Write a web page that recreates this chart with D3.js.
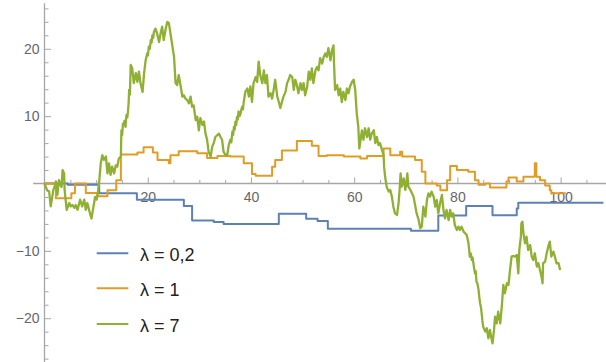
<!DOCTYPE html>
<html>
<head>
<meta charset="utf-8">
<script src="https://cdn.jsdelivr.net/npm/d3@7"></script>
<style>
  html, body { margin: 0; padding: 0; background: #fff; }
  svg { display: block; }
</style>
</head>
<body>
<svg id="chart" width="606" height="362"></svg>
<script>
// ---- data ----
const seriesNames = ["λ = 0,2", "λ = 1", "λ = 7"];
const seriesColors = ["#5E81B5", "#E19C24", "#8FB032"];

// step function, [time, value] (value holds until next time)
const blueSteps = [
  [0, 0], [4.5, -0.2], [10.6, -1.45], [17.9, -2.4], [27.0, -3.35], [28.6, -5.5],
  [32.8, -5.7], [34.7, -6.0], [45.4, -4.5], [50.7, -5.25], [52.9, -5.55],
  [54.9, -6.7], [71.0, -7.0], [76.3, -4.75], [81.7, -3.35], [86.8, -4.7],
  [91.5, -3.7], [91.8, -2.85], [108.3, -2.85]
];

const orangeSteps = [
  [0, 0], [2.2, -2.2], [5.2, -1.45], [5.9, 0], [8.0, -1.4], [10.3, -1.9],
  [12.2, -1.0], [13.9, 0.5], [14.8, 4.3], [18.0, 4.6], [19.2, 5.4], [21.0, 4.6],
  [21.9, 3.5], [24.1, 3.0], [24.4, 4.2], [26.0, 4.8], [29.6, 4.5], [31.5, 3.8],
  [33.5, 4.1], [36.0, 4.0], [38.6, 3.0], [40.2, 1.4], [40.9, 1.15], [44.1, 2.5],
  [44.7, 3.5], [46.0, 4.9], [48.9, 6.3], [51.8, 5.6], [53.1, 4.1], [54.7, 4.2],
  [58.0, 4.0], [61.2, 3.7], [62.5, 4.1], [65.7, 5.2], [67.0, 4.2], [68.9, 4.7],
  [69.3, 4.0], [71.8, 3.5], [73.1, 1.75], [73.8, 0], [76.0, -0.3], [76.7, -1.0],
  [78.0, 0.5], [78.6, 2.6], [79.9, 2.0], [82.1, 1.75], [83.4, 0.5], [84.1, -0.2],
  [85.4, 0.0], [86.3, -0.6], [89.5, 0.3], [89.9, 0.9], [91.5, 0.3], [92.8, 1.0],
  [94.9, 1.1], [95.0, 3.0], [95.3, 1.0], [96.0, 0.5], [97.0, -0.3], [97.9, -1.0],
  [98.2, -1.45], [101.0, -1.45]
];

// dense jump path, [time, value]
const greenPath = [
  [0, 0], [0.5, -1.0], [0.9, -1.2], [1.2, -3.4], [1.5, -2.0], [1.7, -1.0], [2.0, -0.3],
  [2.2, 0.3], [2.5, -1.7], [2.8, 0.5], [3.1, -0.2], [3.3, -0.5], [3.5, 2.0], [3.8, 1.5],
  [3.9, -1.0], [4.3, -3.9], [4.8, -2.9], [5.1, -3.4], [5.4, -3.2], [5.8, -3.6], [6.05, -3.2],
  [6.4, -3.9], [6.9, -2.4], [7.3, -3.4], [7.7, -2.4], [8.0, -3.9], [8.3, -2.9], [8.8, -4.4],
  [9.1, -5.2], [9.5, -3.4], [9.8, -2.0], [10.1, -2.4], [10.4, -1.0], [10.6, 0.3], [10.9, 3.0],
  [11.2, 4.2], [11.5, 3.5], [11.9, 4.0], [12.2, 1.5], [12.5, 3.0], [12.8, 1.3], [13.1, 2.5],
  [13.5, 1.5], [13.8, 2.7], [14.1, 2.5], [14.4, 3.7], [14.8, 4.0], [14.9, 7.9], [15.05, 7.2],
  [15.2, 8.9], [15.3, 8.7], [15.5, 9.3], [15.7, 8.4], [15.8, 9.6], [15.9, 10.2], [16.05, 9.8],
  [16.2, 10.9], [16.3, 12.0], [16.4, 13.9], [16.55, 13.2], [16.7, 17.6], [17.0, 17.1],
  [17.3, 14.9], [17.7, 16.4], [18.0, 15.1], [18.3, 16.6], [18.6, 14.9], [19.0, 13.6],
  [19.3, 16.4], [19.6, 18.3], [19.9, 19.3], [20.05, 19.0], [20.2, 20.3], [20.4, 20.0],
  [20.6, 21.3], [20.75, 20.9], [20.9, 22.0], [21.05, 21.6], [21.2, 22.5],
  [21.5, 23.0], [21.8, 22.3], [22.2, 21.0], [22.5, 22.3], [22.8, 23.3],
  [23.1, 21.3], [23.5, 23.0], [23.8, 24.0], [24.1, 23.8], [24.4, 22.3], [24.7, 20.8],
  [25.1, 18.8], [25.4, 14.9], [25.7, 14.6], [26.0, 16.1], [26.4, 14.4], [26.7, 12.9],
  [27.0, 13.1], [27.3, 12.6], [27.65, 12.4], [28.0, 11.9], [28.3, 12.9], [28.6, 11.4],
  [28.9, 11.6], [29.3, 9.4], [29.6, 9.9], [29.9, 7.9], [30.2, 9.7], [30.6, 8.7], [30.9, 9.2],
  [31.2, 7.4], [31.5, 6.5], [31.8, 4.7], [32.2, 4.0], [32.5, 5.5], [32.8, 6.0], [33.1, 6.9],
  [33.8, 7.4], [34.1, 6.9], [34.4, 6.5], [34.7, 4.7], [35.1, 4.2], [35.4, 4.2], [35.7, 5.7],
  [36.0, 6.5], [36.2, 6.1], [36.4, 7.7], [36.55, 7.2], [36.7, 8.4], [36.85, 8.0], [37.0, 9.2],
  [37.15, 8.7], [37.3, 9.9], [37.45, 9.5], [37.6, 10.7], [37.8, 10.0], [38.0, 10.4],
  [38.15, 11.0], [38.3, 11.4], [38.45, 11.0], [38.6, 12.1], [38.75, 12.8], [38.9, 13.6],
  [39.3, 14.1], [39.6, 12.9], [39.9, 14.4],
  [40.2, 12.1], [40.5, 14.9], [40.9, 15.8], [41.2, 15.1], [41.5, 18.1], [41.8, 16.1],
  [42.2, 14.9], [42.5, 16.8], [42.8, 14.9], [43.1, 16.1], [43.4, 12.9], [43.8, 13.4],
  [44.1, 12.6], [44.4, 13.9], [44.7, 15.4], [45.1, 12.9], [45.4, 12.1], [45.7, 11.2],
  [46.0, 12.1], [46.3, 12.9], [46.7, 13.6], [47.0, 14.9], [47.3, 15.4], [47.6, 16.1],
  [48.0, 15.8], [48.3, 13.9], [48.6, 15.4], [48.9, 14.6], [49.2, 13.4], [49.6, 14.9],
  [49.9, 13.9], [50.2, 14.9], [50.5, 13.1], [50.9, 14.4], [51.2, 16.6], [51.5, 15.4],
  [51.8, 17.1], [52.1, 14.9], [52.5, 16.8], [52.8, 17.3], [53.1, 16.8], [53.4, 18.6],
  [53.8, 17.8], [54.1, 18.8], [54.4, 19.3], [54.7, 18.8], [55.0, 20.1], [55.4, 18.3],
  [55.7, 19.8], [56.0, 20.5], [56.1, 17.8], [56.3, 13.9], [56.7, 14.6], [57.0, 13.1],
  [57.3, 14.1], [57.6, 12.1], [57.9, 13.6], [58.3, 12.4], [58.6, 14.1], [58.9, 13.4],
  [59.2, 14.4], [59.6, 15.1], [59.9, 15.4], [60.2, 13.9], [60.5, 10.4], [60.8, 8.4],
  [61.0, 5.2], [61.5, 7.9], [61.8, 6.5], [62.1, 8.2], [62.5, 6.9], [62.8, 8.2], [63.1, 6.5],
  [63.4, 7.4], [63.8, 7.9], [64.1, 6.0], [64.4, 6.9], [64.7, 5.7], [65.0, 6.0], [65.4, 5.0],
  [65.7, 4.2], [65.8, 2.5], [66.0, 1.0], [66.3, -0.5], [66.7, -1.2], [67.0, -0.96],
  [67.3, -1.95], [67.6, -3.44], [67.9, -4.43], [68.3, -4.67], [68.6, -2.94], [68.8, -0.96],
  [69.0, 1.5], [69.2, -0.47], [69.6, 0.77], [69.9, -0.96], [70.1, 0.03], [70.3, 1.5],
  [70.5, -0.47], [70.9, -0.96], [71.2, -1.46], [71.5, -1.95], [71.8, -3.19], [72.1, -4.43],
  [72.5, -5.42], [72.8, -6.65], [73.1, -6.4], [73.4, -3.44], [73.8, -4.92], [74.1, -2.45],
  [74.4, -1.46], [74.7, -1.95], [75.0, -1.21], [75.4, -1.95], [75.7, -3.44], [76.0, -2.45],
  [76.3, -4.43], [76.7, -2.7], [77.0, -1.7], [77.3, -3.93], [77.6, -5.17], [77.9, -3.93],
  [78.3, -5.42], [78.6, -3.93], [78.9, -4.92], [79.2, -4.43], [79.5, -6.16], [79.9, -6.9],
  [80.2, -6.4], [80.5, -6.9], [80.8, -6.4], [81.2, -7.15], [81.8, -7.64], [82.1, -8.63],
  [82.25, -9.6], [82.4, -10.86], [82.6, -10.4], [82.8, -11.35], [82.95, -11.0],
  [83.1, -11.84], [83.25, -12.6], [83.4, -13.33], [83.55, -13.0], [83.7, -14.56],
  [83.9, -14.9], [84.1, -15.8], [84.25, -16.9], [84.4, -17.78], [84.55, -18.3],
  [84.7, -19.27], [84.85, -20.4], [85.0, -21.24], [85.4, -21.99],
  [85.7, -21.49], [86.0, -22.98], [86.3, -21.74], [86.6, -22.98], [86.8, -23.72],
  [87.1, -21.74], [87.3, -19.76], [87.6, -20.75], [87.9, -19.02], [88.3, -20.75],
  [88.6, -18.28], [88.9, -15.06], [89.2, -16.3], [89.6, -14.81], [89.9, -15.06],
  [90.2, -12.83], [90.5, -10.86], [90.8, -10.76], [91.2, -10.86], [91.5, -10.61],
  [91.8, -13.33], [92.0, -9.87], [92.3, -7.89], [92.4, -5.91], [92.6, -5.67], [92.8, -7.4],
  [93.1, -8.88], [93.4, -7.89], [93.7, -9.87], [94.1, -9.13], [94.4, -10.86], [94.7, -11.35],
  [95.0, -10.36], [95.4, -12.34], [95.7, -11.84], [96.0, -12.83], [96.3, -13.82],
  [96.5, -14.81], [96.6, -11.84], [97.0, -11.6], [97.3, -10.36], [97.6, -9.38],
  [97.9, -8.63], [98.2, -10.86], [98.6, -10.12], [98.9, -10.86], [99.2, -11.84],
  [99.6, -11.84], [99.9, -12.83]
];

const xMajorTicks = [20, 40, 60, 80, 100];
const xMinorTicks = [5, 10, 15, 25, 30, 35, 45, 50, 55, 65, 70, 75, 85, 90, 95, 105];
const yMajorTicks = [-20, -10, 10, 20];
const yMinorTicks = [-26, -24, -22, -18, -16, -14, -12, -8, -6, -4, -2,
                     2, 4, 6, 8, 12, 14, 16, 18, 22, 24, 26];

// ---- drawing ----
const svg = d3.select("#chart");
const x = d3.scaleLinear().domain([0, 108.6]).range([44.5, 605]);
const y = d3.scaleLinear().domain([-26.5, 26.5]).range([362, 5]);

const axisColor = "#a6a6a6";
const labelColor = "#666666";
const fontFamily = "'Liberation Sans', Arial, sans-serif";

// axis lines
svg.append("line")
  .attr("x1", x(-2.2)).attr("x2", 606)
  .attr("y1", y(0)).attr("y2", y(0))
  .attr("stroke", axisColor).attr("stroke-width", 1.3);
svg.append("line")
  .attr("x1", x(0)).attr("x2", x(0))
  .attr("y1", 3.3).attr("y2", 362)
  .attr("stroke", axisColor).attr("stroke-width", 1.3);

function styleAxis(g) {
  g.select(".domain").remove();
  g.selectAll(".tick line").attr("stroke", axisColor).attr("stroke-width", 1);
  g.selectAll(".tick text").attr("fill", labelColor)
    .style("font-family", fontFamily).style("font-size", "14px");
}

svg.append("g").attr("transform", `translate(0,${y(0)})`)
  .call(d3.axisBottom(x).tickValues(xMinorTicks).tickSize(-3.5).tickFormat(""))
  .call(styleAxis);
svg.append("g").attr("transform", `translate(0,${y(0)})`)
  .call(d3.axisBottom(x).tickValues(xMajorTicks).tickSize(-6).tickPadding(8.5))
  .call(styleAxis);

svg.append("g").attr("transform", `translate(${x(0)},0)`)
  .call(d3.axisLeft(y).tickValues(yMinorTicks).tickSize(-4).tickFormat(""))
  .call(styleAxis);
svg.append("g").attr("transform", `translate(${x(0)},0)`)
  .call(d3.axisLeft(y).tickValues(yMajorTicks).tickSize(-6.5).tickPadding(5))
  .call(styleAxis);

// series
const stepLine = d3.line().x(d => x(d[0])).y(d => y(d[1])).curve(d3.curveStepAfter);
const pathLine = d3.line().x(d => x(d[0])).y(d => y(d[1]));

const seriesData = [
  { data: blueSteps, gen: stepLine, w: 2 },
  { data: orangeSteps, gen: stepLine, w: 2 },
  { data: greenPath, gen: pathLine, w: 2.3 }
];

seriesData.forEach((s, i) => {
  svg.append("path")
    .attr("d", s.gen(s.data))
    .attr("fill", "none")
    .attr("stroke", seriesColors[i])
    .attr("stroke-width", s.w)
    .attr("stroke-linejoin", "round")
    .attr("stroke-linecap", "butt");
});

// legend
const legend = svg.append("g");
const legendY = [253.3, 288.3, 324];
seriesNames.forEach((name, i) => {
  legend.append("line")
    .attr("x1", 96.7).attr("x2", 128.3)
    .attr("y1", legendY[i]).attr("y2", legendY[i])
    .attr("stroke", seriesColors[i]).attr("stroke-width", 2);
  legend.append("text")
    .attr("x", 140).attr("y", legendY[i] + 7.6)
    .attr("fill", "#222")
    .style("font-family", fontFamily).style("font-size", "18px")
    .text(name);
});
</script>
</body>
</html>
